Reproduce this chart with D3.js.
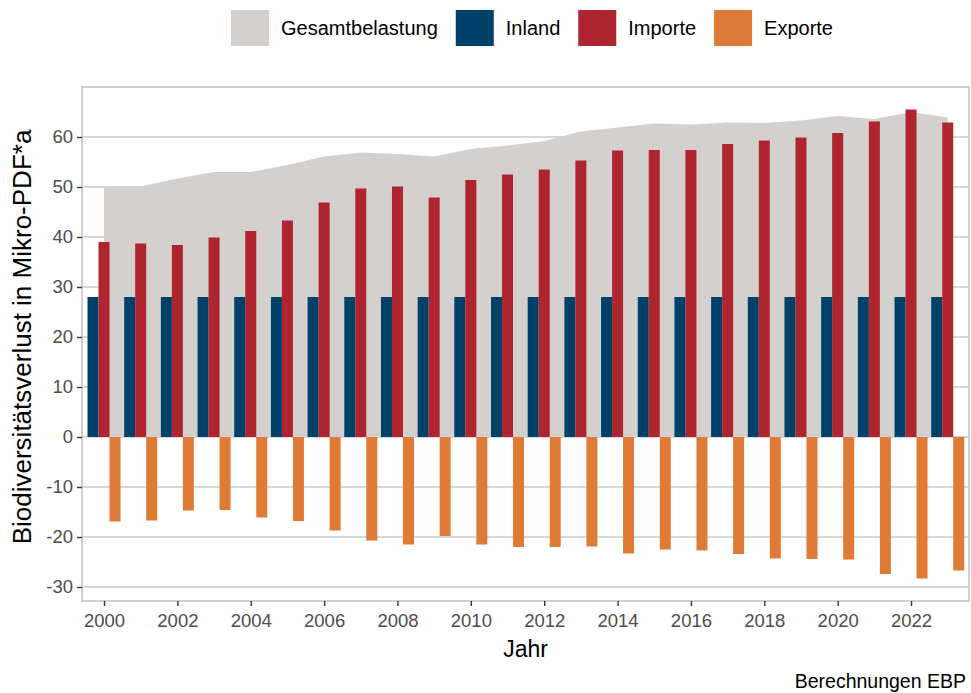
<!DOCTYPE html>
<html>
<head>
<meta charset="utf-8">
<script src="https://cdn.jsdelivr.net/npm/d3@7"></script>
<style>
  body { margin: 0; background: #fff; }
  svg { font-family: "Liberation Sans", Arial, sans-serif; }
</style>
</head>
<body>
<div id="chart"></div>
<script>
// Jahre 2000…2023
const years = d3.range(2000, 2024);

// Werte in Mikro-PDF*a
const gesamt  = [50.0, 50.1, 51.7, 53.0, 53.0, 54.4, 56.1, 56.9, 56.6, 56.1, 57.6, 58.3,
                 59.2, 61.1, 61.9, 62.7, 62.5, 62.9, 62.8, 63.3, 64.2, 63.6, 65.0, 63.9];
const inland  = [28, 28, 28, 28, 28, 28, 28, 28, 28, 28, 28, 28,
                 28, 28, 28, 28, 28, 28, 28, 28, 28, 28, 28, 28];
const importe = [39.0, 38.7, 38.4, 39.9, 41.2, 43.3, 46.9, 49.7, 50.1, 47.9, 51.4, 52.5,
                 53.5, 55.3, 57.3, 57.4, 57.4, 58.6, 59.3, 59.9, 60.8, 63.1, 65.5, 62.9];
const exporte = [-16.9, -16.7, -14.7, -14.6, -16.1, -16.8, -18.7, -20.7, -21.5, -19.8, -21.5, -22.0,
                 -22.0, -21.9, -23.3, -22.5, -22.7, -23.4, -24.3, -24.4, -24.5, -27.4, -28.3, -26.7];

const yTicks = [-30, -20, -10, 0, 10, 20, 30, 40, 50, 60];
const xTicks = d3.range(2000, 2024, 2);

const series = [
  { key: 'Gesamtbelastung', color: '#d4d0ce' },
  { key: 'Inland',  values: inland,  color: '#00416a', offset: -1 },
  { key: 'Importe', values: importe, color: '#ae2530', offset: 0 },
  { key: 'Exporte', values: exporte, color: '#e07b37', offset: 1 }
];

const W = 971, H = 693;
const margin = {top: 87, right: 2, bottom: 92, left: 82};
const width  = W - margin.left - margin.right;
const height = H - margin.top - margin.bottom;

const svg = d3.select('#chart').append('svg')
    .attr('width', W)
    .attr('height', H);

const g = svg.append('g')
    .attr('transform', `translate(${margin.left},${margin.top})`);

// Scales
const x = d3.scaleLinear()
  .domain([1999.4, 2023.58])
  .range([0, width]);

const y = d3.scaleLinear()
  .domain([-32.8, 70])
  .range([height, 0]);

const barW = 0.3; // Jahresanteil je Balken

// Grid
g.append('g')
  .selectAll('line')
  .data(yTicks)
  .join('line')
    .attr('x1', 0).attr('x2', width)
    .attr('y1', d => y(d)).attr('y2', d => y(d))
    .attr('stroke', '#cbcbcb')
    .attr('stroke-width', 1.4);

// Gesamtbelastung als Fläche
const area = d3.area()
  .x((d, i) => x(years[i]))
  .y0(y(0))
  .y1(d => y(d));

g.append('path')
  .datum(gesamt)
  .attr('fill', series[0].color)
  .attr('d', area);

// Balken
series.slice(1).forEach(s => {
  g.append('g')
    .selectAll('rect')
    .data(s.values)
    .join('rect')
      .attr('x', (d, i) => x(years[i] + s.offset * barW - barW / 2))
      .attr('width', (d, i) => x(years[i] + barW) - x(years[i]))
      .attr('y', d => y(Math.max(0, d)))
      .attr('height', d => Math.abs(y(d) - y(0)))
      .attr('fill', s.color);
});

// Panel border
g.append('rect')
  .attr('width', width).attr('height', height)
  .attr('fill', 'none')
  .attr('stroke', '#bdbdbd')
  .attr('stroke-width', 1.4);

// Axes
const yAxis = g.append('g')
  .call(d3.axisLeft(y).tickValues(yTicks).tickFormat(d => String(d)).tickSize(5).tickPadding(4));
const xAxis = g.append('g')
  .attr('transform', `translate(0,${height})`)
  .call(d3.axisBottom(x).tickValues(xTicks).tickFormat(d => String(d)).tickSize(5).tickPadding(3));

[yAxis, xAxis].forEach(a => {
  a.select('.domain').remove();
  a.selectAll('line').attr('stroke', '#333').attr('stroke-width', 1.4);
  a.selectAll('text')
    .attr('fill', '#4d4d4d')
    .attr('font-size', '18.5px')
    .attr('font-family', '"Liberation Sans", Arial, sans-serif');
});
xAxis.selectAll('text').attr('dy', '0.95em');

// Axis titles
svg.append('text')
  .attr('x', margin.left + width / 2)
  .attr('y', 657)
  .attr('text-anchor', 'middle')
  .attr('font-size', '23px')
  .text('Jahr');

svg.append('text')
  .attr('transform', `translate(31,337) rotate(-90)`)
  .attr('text-anchor', 'middle')
  .attr('font-size', '26px')
  .text('Biodiversitätsverlust in Mikro-PDF*a');

// Caption
svg.append('text')
  .attr('x', 966)
  .attr('y', 688)
  .attr('text-anchor', 'end')
  .attr('font-size', '19.5px')
  .text('Berechnungen EBP');

// Legend
const legend = svg.append('g');
let lx = 0;
series.forEach(s => {
  const item = legend.append('g').attr('transform', `translate(${lx},0)`);
  item.append('rect')
    .attr('x', 0).attr('y', 10)
    .attr('width', 38).attr('height', 36)
    .attr('fill', s.color);
  const t = item.append('text')
    .attr('x', 50).attr('y', 28)
    .attr('dy', '0.35em')
    .attr('font-size', '20px')
    .text(s.key);
  lx += 50 + t.node().getComputedTextLength() + 18;
});
legend.attr('transform', `translate(${532 - (lx - 18) / 2},0)`);
</script>
</body>
</html>
